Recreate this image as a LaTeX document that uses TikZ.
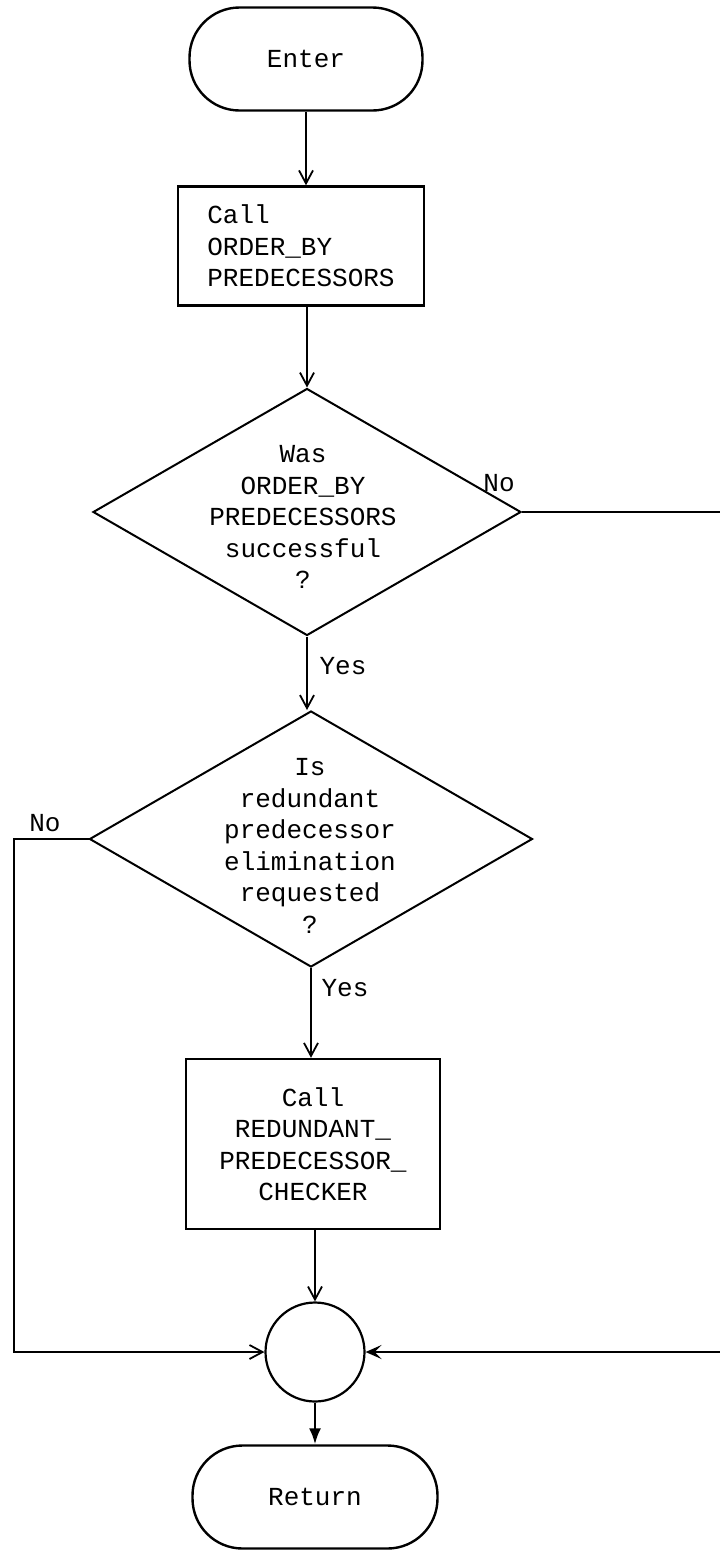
\documentclass[tikz,border=0pt]{standalone}
\usepackage{fontspec}
\setmainfont{Liberation Mono}
\usetikzlibrary{shapes.geometric,arrows.meta}
\begin{document}
\begin{tikzpicture}[x=1pt,y=-1pt,
  every node/.style={font=\fontsize{26}{31.5}\selectfont, inner sep=0pt},
  term/.style={draw, line width=2.4pt, rectangle, rounded corners=50pt, minimum width=233pt, minimum height=103pt},
  proc/.style={draw, line width=2.4pt, rectangle, minimum width=#1, align=center},
  dia/.style={draw, line width=2pt, diamond, inner sep=0pt},
  junc/.style={draw, line width=2.2pt, circle, minimum size=99pt},
  txt/.style={align=center},
  lbl/.style={},
  arr/.style={line width=2.2pt, -{Straight Barb[length=13pt,width=14pt,line width=1.8pt]}},
  arrf/.style={line width=2.4pt, -{Latex[length=16pt,width=12pt]}},
  arrs/.style={line width=2.6pt, -{Stealth[length=16pt,width=14pt,inset=7pt]}}
]
\useasboundingbox (0,0) rectangle (720,1550);

\node[term] (enter) at (306,59) {Enter};
\node[proc=246pt, minimum height=119pt, align=left] (b1) at (301,246) {Call\\ORDER\_BY\\PREDECESSORS};
\node[dia, minimum width=428pt, minimum height=247pt] (d1) at (307,512) {};
\node[txt] (t1) at (303,517) {Was\\ORDER\_BY\\PREDECESSORS\\successful\\?};
\node[dia, minimum width=443pt, minimum height=256pt] (d2) at (311,839) {};
\node[txt] (t2) at (310,846) {Is\\redundant\\predecessor\\elimination\\requested\\?};
\node[proc=254pt, minimum height=170pt] (b2) at (313,1144) {Call\\REDUNDANT\_\\PREDECESSOR\_\\CHECKER};
\node[junc] (c) at (315,1352) {};
\node[term, minimum width=245pt] (ret) at (315,1497) {Return};

\coordinate (L) at (14,839);
\coordinate (R) at (726,512);

\node[lbl] (no1) at (499,483) {No};
\node[lbl] (yes1) at (343,666) {Yes};
\node[lbl] (no2) at (45,823) {No};
\node[lbl] (yes2) at (345,988) {Yes};

\draw[arr] (enter.south) -- (enter.south |- b1.north);
\draw[arr] (d1.north |- b1.south) -- (d1.north);
\draw[arr] (d1.south) -- (d1.south |- d2.north);
\draw[arr] (d2.south) -- (d2.south |- b2.north);
\draw[arr] (c.north |- b2.south) -- (c.north);
\draw[arrf] (c.south) -- (ret.north);
\draw[arr] (d2.west) -- (L) |- (c.west);
\draw[arrs] (d1.east) -- (R) |- (c.east);
\end{tikzpicture}
\end{document}
